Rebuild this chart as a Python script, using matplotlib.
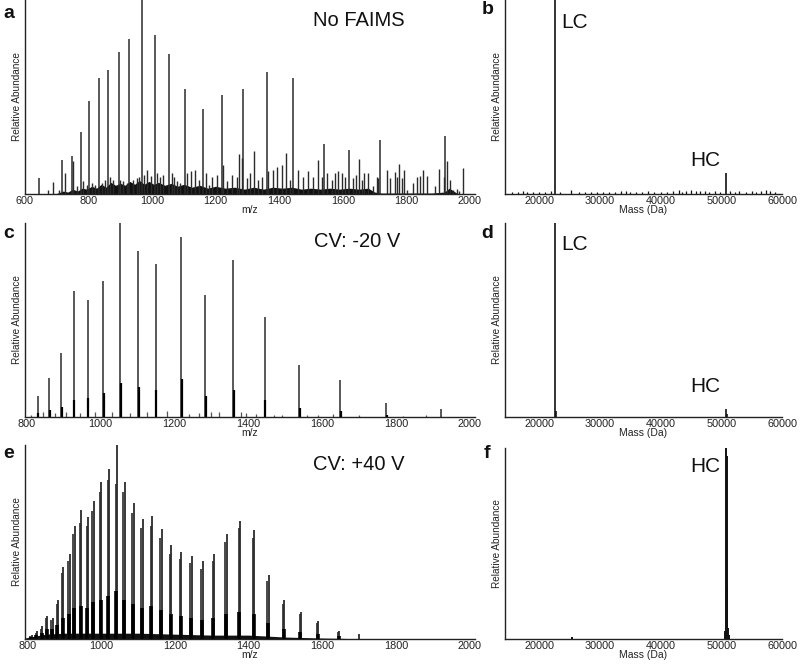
import matplotlib
matplotlib.use('Agg')
import matplotlib.pyplot as plt

plt.rcParams['font.family'] = ['Liberation Sans', 'DejaVu Sans']

# ---------------- data ----------------
# Panel a: No FAIMS (m/z, relative abundance %)
a_major_mz = [644, 718, 747, 776, 802, 832, 862, 895, 928, 967, 1009, 1054, 1103,
              1159, 1219, 1285, 1360, 1444, 1541, 1619, 1718, 1923]
a_major_h = [8, 17.5, 19.6, 32, 48, 60, 64, 73, 80, 100, 82, 72, 54,
             44, 51, 54, 63, 60, 25.6, 22.5, 28, 30]
a_minor_peaks = [
    (673, 2.2), (687, 6), (707, 2), (727, 10.8), (752, 16.8), (763, 4), (783, 6.5),
    (794, 4.8), (810, 5.7), (820, 4.8), (841, 5.7), (852, 7.4), (867, 9), (878, 7.4),
    (899, 7.4), (909, 6.5), (920, 5.7), (941, 7.4), (951, 8.2), (960, 9), (974, 10),
    (983, 12.5), (995, 9.5), (1014, 10.8), (1025, 9), (1035, 10), (1061, 10.8),
    (1069, 9), (1078, 6.5), (1088, 5.7), (1109, 10.8), (1122, 11.7), (1135, 12.5),
    (1148, 7.4), (1169, 10.8), (1180, 4.8), (1190, 9), (1203, 10), (1224, 15),
    (1235, 6.5), (1250, 10), (1266, 9), (1273, 20.6), (1282, 18.6), (1297, 8.2),
    (1308, 10.8), (1321, 22), (1334, 7.4), (1345, 9), (1365, 11.7), (1381, 12.5),
    (1392, 14), (1408, 15), (1421, 21), (1434, 7.4), (1460, 12.5), (1476, 9),
    (1491, 11.7), (1507, 9), (1521, 17.4), (1533, 9), (1549, 10.8), (1565, 7.4),
    (1575, 10.8), (1586, 11.7), (1599, 10.8), (1607, 9), (1633, 8.2), (1641, 10),
    (1651, 18.2), (1659, 7.4), (1666, 10.8), (1680, 10.8), (1696, 4), (1707, 9),
    (1712, 8.2), (1740, 12.5), (1748, 8.2), (1764, 11.2), (1771, 9), (1777, 15.6),
    (1785, 8.2), (1792, 12.2), (1803, 2.2), (1820, 5.7), (1832, 9), (1843, 9.5),
    (1851, 12.2), (1864, 9.5), (1890, 4), (1903, 12.9), (1918, 9), (1929, 17.2),
    (1937, 7.4), (1946, 2.2), (1958, 2.6), (1966, 1.4), (1979, 13.4),
]
a_floor_mz = [600, 700, 720, 735, 750, 765, 780, 795, 810, 825, 840, 855, 870, 885,
              900, 915, 930, 945, 960, 975, 990, 1005, 1020, 1040, 1060, 1080, 1100,
              1125, 1150, 1175, 1200, 1230, 1260, 1290, 1320, 1350, 1380, 1410, 1440,
              1470, 1500, 1530, 1560, 1590, 1620, 1650, 1680, 1700, 1720, 1760, 1800,
              1840, 1880, 1920, 1935, 1960, 2000]
a_floor_h = [0, 0.3, 1.5, 1, 2.5, 1.5, 3, 2.5, 4, 3, 5, 3.5, 6, 4.5, 5.5, 4.5, 6.5,
             5, 7, 5, 6.5, 5, 6, 4.5, 5.5, 4, 5, 3.5, 4.5, 3, 4, 3, 3.5, 2.5, 3.5,
             2.5, 3.5, 3, 3.5, 2.5, 3, 2.5, 3, 2.5, 3, 2.5, 3, 1, 0.5, 0.5, 0.5,
             0.5, 0.5, 1, 3, 0.3, 0]

# Panel b: deconvoluted, No FAIMS (mass Da, %)
b_peaks_mass = [22650, 50800]
b_peaks_h = [100, 11]
b_noise_mass = [15500, 16500, 17300, 18000, 19000, 20000, 21000, 22000, 23500,
                25300, 26500, 27500, 28500, 29500, 30500, 31500, 32500, 33500,
                34300, 35000, 36000, 37000, 38000, 39000, 40000, 41000, 42000,
                43000, 43500, 44200, 45000, 45800, 46500, 47300, 48000, 49000,
                49800, 51500, 52300, 53000, 54000, 55000, 55800, 56500, 57300,
                58000, 58800]
b_noise_h = [1.2, 0.8, 1.8, 1, 0.8, 1.2, 0.8, 1.5, 1, 2.2, 1.2, 0.8, 1, 1.2, 0.8,
             1.2, 1, 1.5, 1.8, 1, 0.8, 1.2, 1.5, 0.8, 1.2, 1, 1.5, 2, 1.2, 1.8,
             2, 1.5, 1.8, 1.5, 1.2, 1.5, 1.2, 1.8, 1.2, 1.5, 1.2, 1.5, 1, 1.8,
             2, 1.5, 1]

# Panel c: CV -20 V
c_major_mz = [829, 860, 892, 927, 965, 1007, 1053, 1102, 1149, 1218, 1283, 1358,
              1444, 1538, 1649, 1774, 1922]
c_major_h = [11, 20, 33, 65, 60.5, 70, 100, 85.6, 79, 93, 63, 81, 51.5, 27, 19, 7, 4.3]
c_sub_mz = [831, 862, 894, 929, 967, 1009, 1055, 1104, 1151, 1220, 1285, 1360,
            1446, 1540, 1651, 1776]
c_sub_h = [2, 3.5, 5, 9, 10, 12.4, 17.5, 15.5, 13.7, 19.8, 11, 13.7, 8.6, 4.5, 3, 1]
c_minor_peaks = [(810, 1), (843, 2.6), (875, 2), (907, 2.6), (945, 2.2), (985, 2.6),
                 (1030, 2.6), (1080, 2.2), (1125, 2.6), (1180, 3), (1240, 1.7),
                 (1265, 2), (1300, 2.6), (1320, 2.6), (1380, 2.6), (1395, 2),
                 (1420, 1.7), (1470, 1), (1490, 1.2), (1560, 1), (1590, 1.2),
                 (1630, 1.5), (1700, 0.8), (1820, 0.5), (1880, 0.8)]

# Panel d: deconvoluted, CV -20 V
d_peaks_mass = [22650, 22800, 50800, 50950]
d_peaks_h = [100, 3, 4, 1.5]

# Panel e: CV +40 V
e_major_mz = [811, 826, 840, 854, 868, 883, 897, 914, 928, 946, 964, 980, 1000, 1021,
              1043, 1063, 1088, 1112, 1138, 1164, 1190, 1217, 1245, 1275, 1306, 1341,
              1377, 1415, 1454, 1497, 1542, 1589, 1646, 1700]
e_major_h = [2, 4, 6.5, 12, 11, 20, 37, 44, 58.5, 66.6, 63, 71, 81, 87.6, 100, 80.8,
             70, 61.7, 63.6, 56.8, 48.2, 45, 42.9, 40, 44, 54, 61, 56, 33, 20, 14,
             9.4, 4, 2.7]
e_pair_mz = [807, 822, 836, 850, 864, 879, 893, 910, 924, 942, 960, 976, 996, 1017,
             1039, 1059, 1084, 1108, 1134, 1160, 1186, 1213, 1241, 1271, 1302, 1337,
             1373, 1411, 1450, 1493, 1538, 1585, 1642]
e_pair_h = [1.5, 3, 5, 11, 10, 18, 34, 40, 54, 60, 58, 66, 76, 82, 80, 76, 65, 57,
            58, 52, 44, 41, 39, 36, 40, 50, 57, 52, 30, 18, 13, 8.5, 3.5]
e_black_mz = [809, 824, 838, 852, 866, 881, 895, 912, 926, 944, 962, 978, 998, 1019,
              1041, 1061, 1086, 1110, 1136, 1162, 1188, 1215, 1243, 1273, 1304, 1339,
              1375, 1413, 1452, 1495, 1540, 1587, 1644]
e_black_h = [1.2, 2, 3, 5, 5, 7, 11, 13, 16, 17, 16, 19, 20, 22, 25, 20, 18, 16, 17,
             15, 13, 12, 11, 10, 11, 13, 14, 13, 8, 5, 3.5, 2.5, 1.5]
e_floor_mz = [793, 820, 850, 900, 950, 1000, 1100, 1200, 1300, 1400, 1500, 1600,
              1660, 1700]
e_floor_h = [0.5, 1.5, 2.5, 3, 3, 3, 3, 2.5, 2, 2, 1, 0.5, 0.3, 0]

# Panel f: deconvoluted, CV +40 V
f_peaks_mass = [25400, 50650, 50800, 50900, 51000, 51150, 51300]
f_peaks_h = [1, 4, 100, 96, 27, 6, 2]

mz_ticks = [600, 800, 1000, 1200, 1400, 1600, 1800, 2000]
mz_ticks2 = [800, 1000, 1200, 1400, 1600, 1800, 2000]
mass_ticks = [20000, 30000, 40000, 50000, 60000]

# ---------------- layout ----------------
W, H = 800, 667
fig = plt.figure(figsize=(8, 6.67), dpi=100)


def box(x0, y0, x1, y1):
    return [x0 / W, 1 - y1 / H, (x1 - x0) / W, (y1 - y0) / H]


def style(ax, xlim, ticks, xlabel):
    ax.set_xlim(*xlim)
    ax.set_ylim(0, 100)
    ax.set_xticks(ticks)
    ax.set_xticklabels([str(t) for t in ticks])
    ax.set_yticks([])
    for s in ['top', 'right']:
        ax.spines[s].set_visible(False)
    for s in ['left', 'bottom']:
        ax.spines[s].set_linewidth(1.0)
        ax.spines[s].set_color('#222222')
    ax.tick_params(axis='x', length=0, pad=1.5, labelsize=7.8, colors='#222222')
    ax.set_ylabel('Relative Abundance', fontsize=7.2, labelpad=2, color='#222222')
    ax.set_xlabel(xlabel, fontsize=7.5, labelpad=-1, color='#222222')


PK = '#2b2b2b'

# a
ax = fig.add_axes(box(25, 0, 475, 194))
ax.fill_between(a_floor_mz, 0, a_floor_h, color='#111111', lw=0)
ax.vlines([p[0] for p in a_minor_peaks], 0, [p[1] for p in a_minor_peaks],
          colors=PK, lw=1.0)
ax.vlines(a_major_mz, 0, a_major_h, colors=PK, lw=1.1)
style(ax, (600, 2016), mz_ticks, 'm/z')

# b
ax = fig.add_axes(box(505, 0, 782, 194))
ax.vlines(b_noise_mass, 0, b_noise_h, colors='#111111', lw=0.9)
ax.vlines(b_peaks_mass, 0, b_peaks_h, colors='#111111', lw=1.2)
style(ax, (14400, 59500), mass_ticks, 'Mass (Da)')

# c
ax = fig.add_axes(box(25, 223, 475, 417))
ax.vlines([p[0] for p in c_minor_peaks], 0, [p[1] for p in c_minor_peaks],
          colors='#555555', lw=0.9)
ax.vlines(c_major_mz, 0, c_major_h, colors=PK, lw=1.1)
ax.vlines(c_sub_mz, 0, c_sub_h, colors='#000000', lw=1.6)
style(ax, (795, 2014), mz_ticks2, 'm/z')

# d
ax = fig.add_axes(box(505, 223, 782, 417))
ax.vlines(d_peaks_mass, 0, d_peaks_h, colors='#111111', lw=1.2)
style(ax, (14400, 59500), mass_ticks, 'Mass (Da)')

# e
ax = fig.add_axes(box(25, 445, 475, 639))
ax.fill_between(e_floor_mz, 0, e_floor_h, color='#111111', lw=0)
ax.vlines(e_pair_mz, 0, e_pair_h, colors='#3a3a3a', lw=1.3)
ax.vlines(e_major_mz, 0, e_major_h, colors=PK, lw=1.3)
ax.vlines(e_black_mz, 0, e_black_h, colors='#000000', lw=2.6)
style(ax, (793, 2014), mz_ticks2, 'm/z')

# f
ax = fig.add_axes(box(505, 448, 782, 639))
ax.vlines(f_peaks_mass, 0, f_peaks_h, colors='#111111', lw=1.4)
style(ax, (14400, 59500), mass_ticks, 'Mass (Da)')


def ftext(x, y, s, **kw):
    fig.text(x / W, 1 - y / H, s, ha='center', va='center', color='#111111', **kw)


for lbl, (x, y) in zip('abcdef', [(9, 13), (488, 9), (9, 234), (487, 233),
                                   (9, 454), (487, 453)]):
    ftext(x, y, lbl, fontsize=14, fontweight='bold')

ftext(359, 20, 'No FAIMS', fontsize=14.5)
ftext(357, 241, 'CV: -20 V', fontsize=14.5)
ftext(359, 465, 'CV: +40 V', fontsize=14.5)
ftext(575, 22, 'LC', fontsize=15)
ftext(705, 161, 'HC', fontsize=15)
ftext(575, 245, 'LC', fontsize=15)
ftext(705, 387, 'HC', fontsize=15)
ftext(705, 467, 'HC', fontsize=15)

fig.savefig('out.png', dpi=100, facecolor='white')
